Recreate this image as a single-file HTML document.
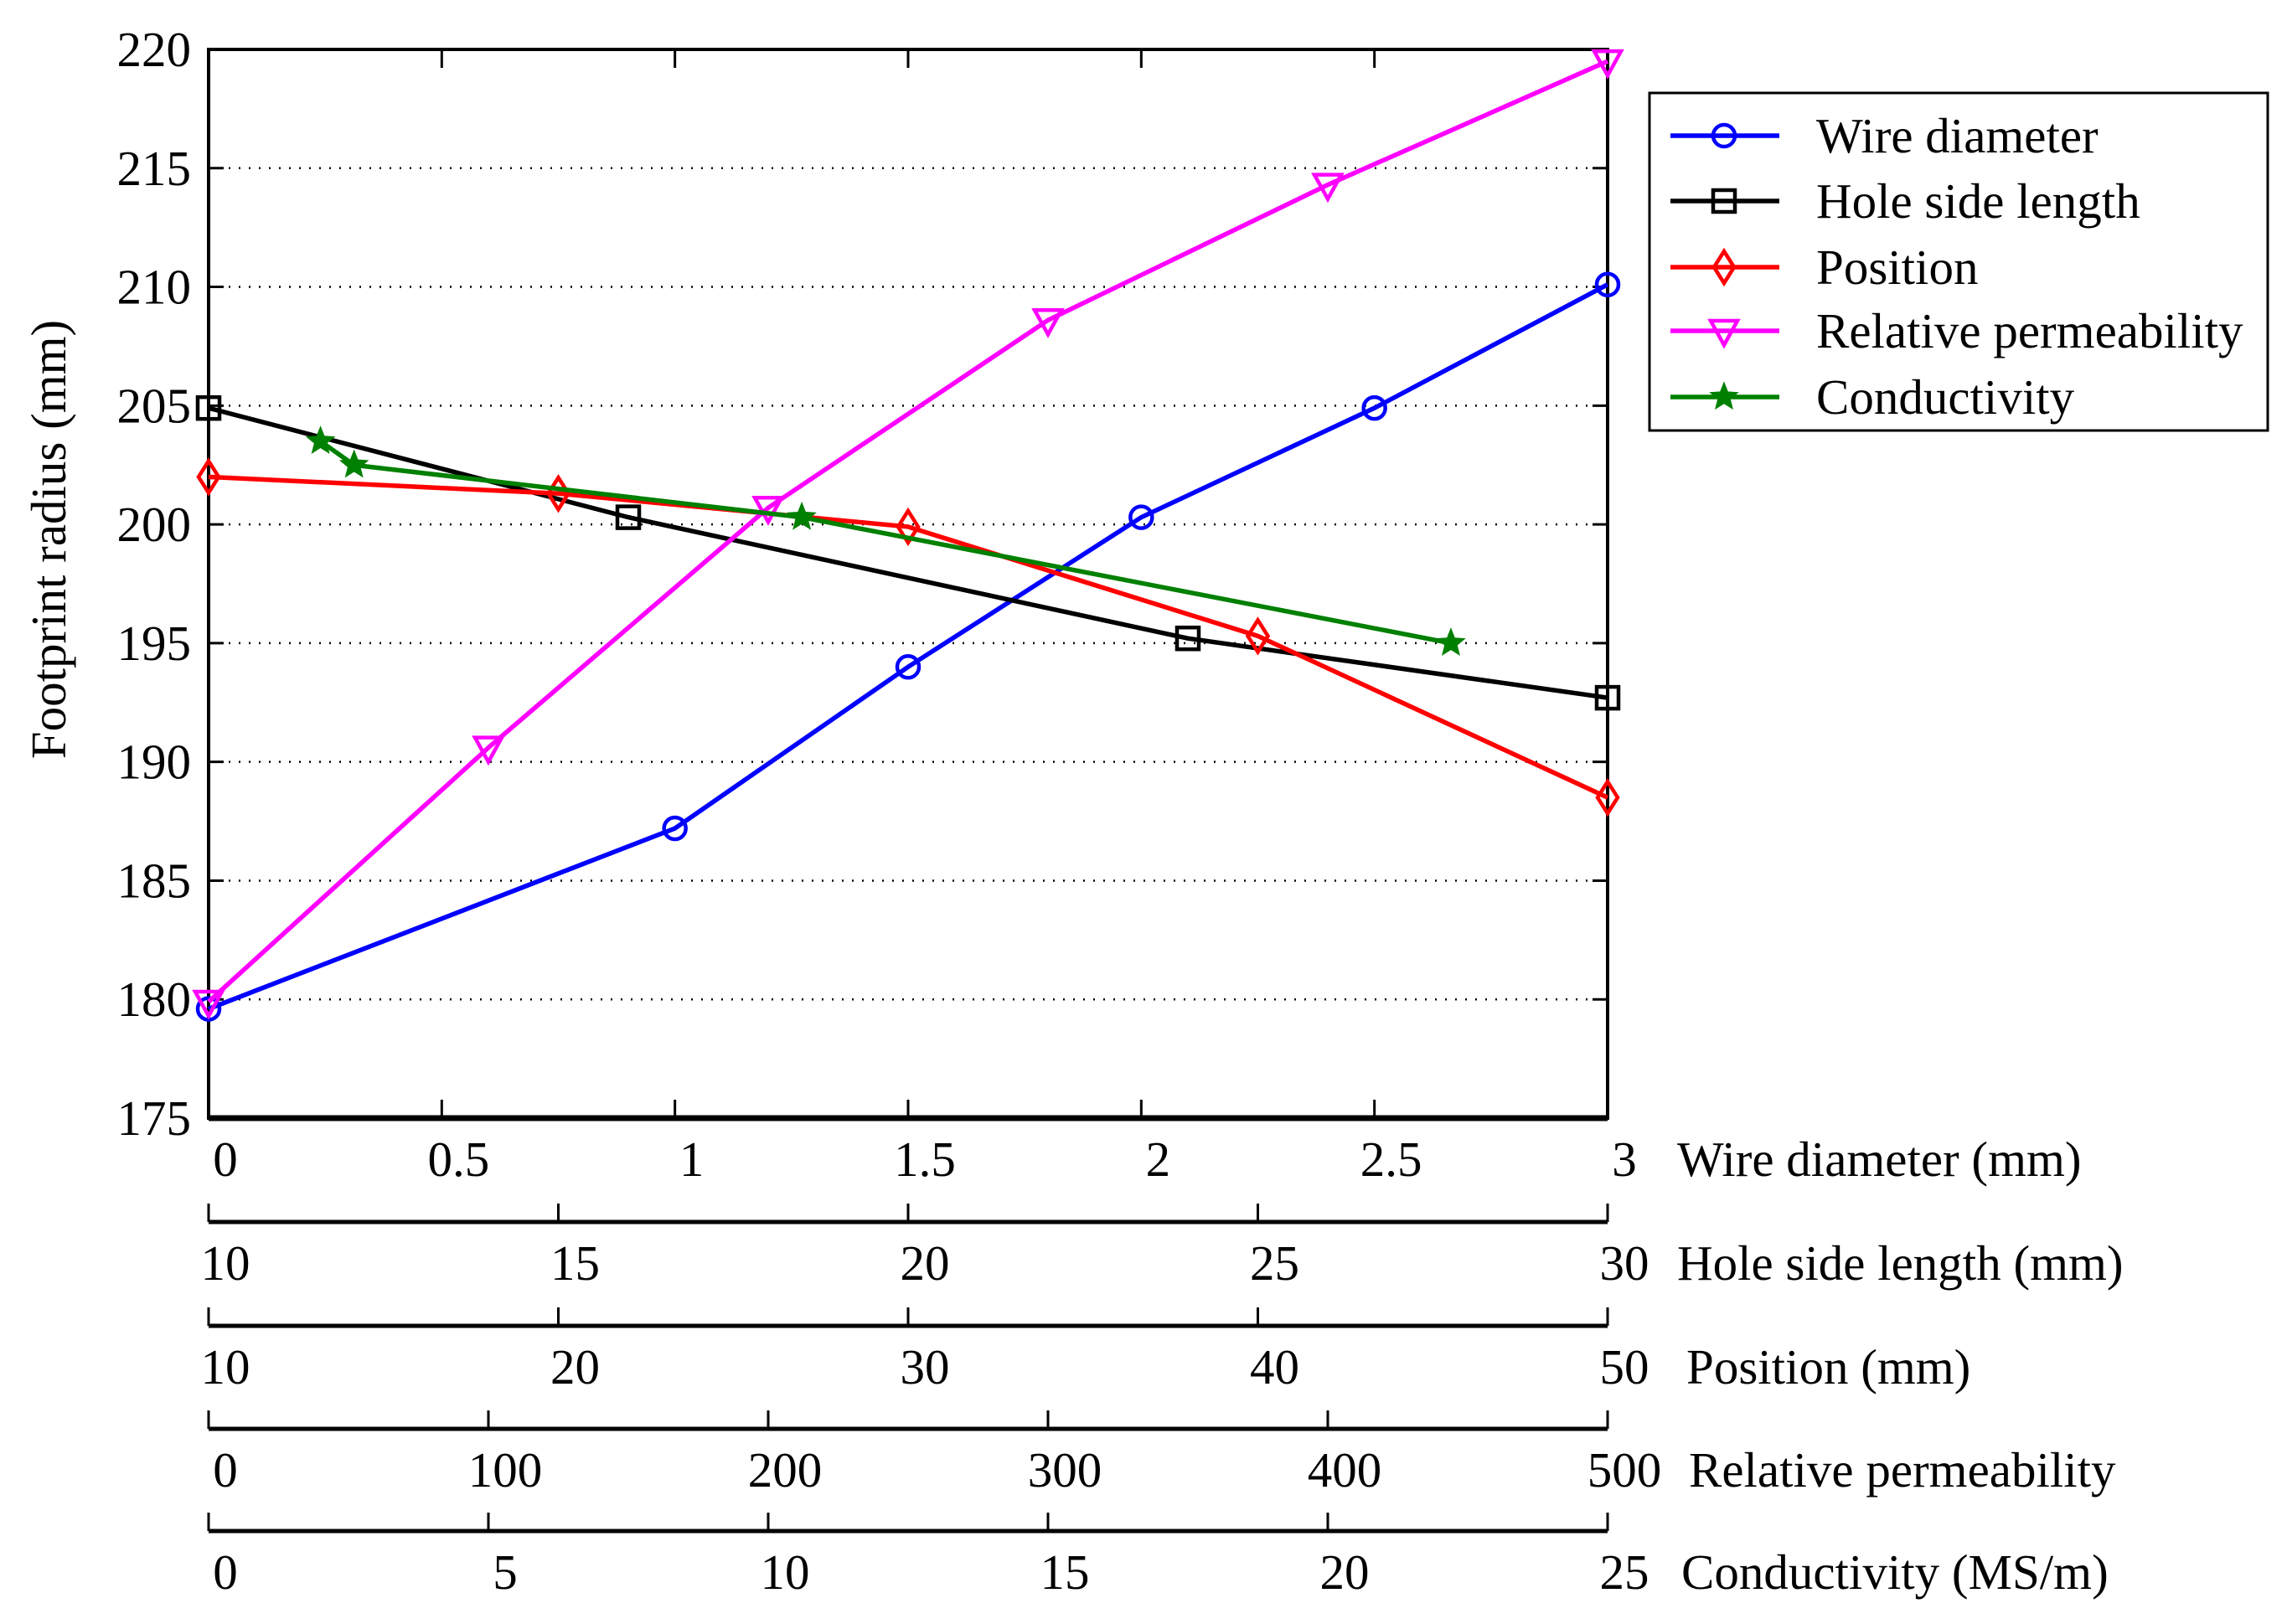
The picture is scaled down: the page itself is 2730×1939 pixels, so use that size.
<!DOCTYPE html>
<html><head><meta charset="utf-8"><style>
html,body{margin:0;padding:0;background:#fff;}
svg{display:block;}
text{font-family:"Liberation Serif",serif;fill:#000;}
</style></head><body>
<svg id="chart" width="2730" height="1939" viewBox="0 0 2730 1939" xmlns="http://www.w3.org/2000/svg"></svg>
<script>
// ---- data ----
const wireX = [0, 1, 1.5, 2, 2.5, 3];
const wireY = [179.6, 187.2, 194.0, 200.3, 204.9, 210.1];
const holeX = [10, 16, 24, 30];
const holeY = [204.9, 200.3, 195.2, 192.7];
const posX = [10, 20, 30, 40, 50];
const posY = [202.0, 201.3, 199.9, 195.3, 188.5];
const permX = [0, 100, 200, 300, 400, 500];
const permY = [179.9, 190.6, 200.7, 208.6, 214.3, 219.5];
const condX = [2.0, 2.6, 10.6, 22.2];
const condY = [203.5, 202.5, 200.3, 195.0];
const yTicks = [175, 180, 185, 190, 195, 200, 205, 210, 215, 220];
const wireTicks = [0, 0.5, 1, 1.5, 2, 2.5, 3];
const wireTickLabels = ["0", "0.5", "1", "1.5", "2", "2.5", "3"];
const holeTicks = [10, 15, 20, 25, 30];
const posTicks = [10, 20, 30, 40, 50];
const permTicks = [0, 100, 200, 300, 400, 500];
const condTicks = [0, 5, 10, 15, 20, 25];
const legendLabels = ["Wire diameter", "Hole side length", "Position", "Relative permeability", "Conductivity"];

const NS = "http://www.w3.org/2000/svg";
const svg = document.getElementById('chart');
const L = 249, R = 1919, T = 59, B = 1335;
const FS = 59;
function el(tag, attrs, parent) {
  const e = document.createElementNS(NS, tag);
  for (const k in attrs) e.setAttribute(k, attrs[k]);
  (parent || svg).appendChild(e);
  return e;
}
function yS(v) { return T + (220 - v) / 45 * (B - T); }
function lin(d0, d1) { return v => L + (v - d0) / (d1 - d0) * (R - L); }
const xWire = lin(0, 3), xHole = lin(10, 30), xPos = lin(10, 50), xPerm = lin(0, 500), xCond = lin(0, 25);

yTicks.forEach(v => {
  if (v > 175 && v < 220) {
    const g = el('line', {x1: L, x2: R, y1: yS(v), y2: yS(v), stroke: '#000', 'stroke-width': 2.5, 'stroke-dasharray': '2 10'});
    
    
  }
  const t = el('text', {x: 228, y: yS(v) + 20, 'font-size': FS, 'text-anchor': 'end'});
  t.textContent = v;
  
  
  const tk = el('line', {x1: L, x2: L + 18, y1: yS(v), y2: yS(v), stroke: '#000', 'stroke-width': 3});
  
  
  const tk2 = el('line', {x1: R, x2: R - 18, y1: yS(v), y2: yS(v), stroke: '#000', 'stroke-width': 3});
  
  
});
const frame = el('rect', {x: L, y: T, width: R - L, height: B - T, fill: 'none', stroke: '#000', 'stroke-width': 4});


const bl = el('line', {x1: L, x2: R, y1: B, y2: B, stroke: '#000', 'stroke-width': 7});


wireTicks.forEach((v, i) => {
  const a = el('line', {x1: xWire(v), x2: xWire(v), y1: B, y2: B - 22, stroke: '#000', 'stroke-width': 3});
  
  
  const b = el('line', {x1: xWire(v), x2: xWire(v), y1: T, y2: T + 22, stroke: '#000', 'stroke-width': 3});
  
  
  const t = el('text', {x: xWire(v) + 20, y: 1404, 'font-size': FS, 'text-anchor': 'middle'});
  t.textContent = wireTickLabels[i];
  
  
});
const wt = el('text', {x: 2002, y: 1404, 'font-size': FS});
wt.textContent = 'Wire diameter (mm)';



function extraAxis(lineY, ticks, xf, title, titleX, name) {
  const ln = el('line', {x1: L, x2: R, y1: lineY, y2: lineY, stroke: '#000', 'stroke-width': 5});
  
  
  ticks.forEach(v => {
    const tk = el('line', {x1: xf(v), x2: xf(v), y1: lineY, y2: lineY - 22, stroke: '#000', 'stroke-width': 3});
    
    
    const t = el('text', {x: xf(v) + 20, y: lineY + 69, 'font-size': FS, 'text-anchor': 'middle'});
    t.textContent = v;
    
    
  });
  const tt = el('text', {x: titleX, y: lineY + 69, 'font-size': FS});
  tt.textContent = title;
  
  
}
extraAxis(1459, holeTicks, xHole, 'Hole side length (mm)', 2002, 'hole');
extraAxis(1583, posTicks, xPos, 'Position (mm)', 2013, 'position');
extraAxis(1706, permTicks, xPerm, 'Relative permeability', 2016, 'permeability');
extraAxis(1828, condTicks, xCond, 'Conductivity (MS/m)', 2007, 'conductivity');

const yt = el('text', {x: 0, y: 0, 'font-size': FS, 'text-anchor': 'middle', transform: 'translate(78,644) rotate(-90)'});
yt.textContent = 'Footprint radius (mm)';



function marker(type, cx, cy, color, parent) {
  let m;
  if (type === 'o') m = el('circle', {cx, cy, r: 13, fill: 'none', stroke: color, 'stroke-width': 4.5}, parent);
  else if (type === 's') m = el('rect', {x: cx - 13, y: cy - 13, width: 26, height: 26, fill: 'none', stroke: color, 'stroke-width': 4.5}, parent);
  else if (type === 'd') m = el('polygon', {points: `${cx},${cy-19} ${cx+12},${cy} ${cx},${cy+19} ${cx-12},${cy}`, fill: 'none', stroke: color, 'stroke-width': 4.5}, parent);
  else if (type === 'v') m = el('polygon', {points: `${cx-16},${cy-12} ${cx+16},${cy-12} ${cx},${cy+17}`, fill: 'none', stroke: color, 'stroke-width': 4.5}, parent);
  else {
    let p = '';
    for (let k = 0; k < 10; k++) { const a = -Math.PI/2 + k*Math.PI/5; const r = k%2 ? 7 : 16; p += `${cx + r*Math.cos(a)},${cy + r*Math.sin(a)} `; }
    m = el('polygon', {points: p, fill: color, stroke: color, 'stroke-width': 2}, parent);
  }
  return m;
}
const series = [
  {name: 'wire-diameter', xs: wireX, ys: wireY, xf: xWire, color: '#0000ff', m: 'o'},
  {name: 'hole-side-length', xs: holeX, ys: holeY, xf: xHole, color: '#000000', m: 's'},
  {name: 'position', xs: posX, ys: posY, xf: xPos, color: '#ff0000', m: 'd'},
  {name: 'relative-permeability', xs: permX, ys: permY, xf: xPerm, color: '#ff00ff', m: 'v'},
  {name: 'conductivity', xs: condX, ys: condY, xf: xCond, color: '#008000', m: 'p'}
];
series.forEach(s => {
  const g = el('g', {});
  
  
  const pts = s.xs.map((x, i) => s.xf(x) + ',' + yS(s.ys[i])).join(' ');
  const pl = el('polyline', {points: pts, fill: 'none', stroke: s.color, 'stroke-width': 5.5}, g);
  
  
  s.xs.forEach((x, i) => {
    const mk = marker(s.m, s.xf(x), yS(s.ys[i]), s.color, g);
    
    
  });
});

const lg = el('g', {});


const lb = el('rect', {x: 1969, y: 111, width: 738, height: 403, fill: '#fff', stroke: '#000', 'stroke-width': 3}, lg);


const rowY = [162, 240, 319, 395, 474];
series.forEach((s, i) => {
  const e = el('g', {}, lg);
  
  
  el('line', {x1: 1994, x2: 2124, y1: rowY[i], y2: rowY[i], stroke: s.color, 'stroke-width': 5.5}, e);
  marker(s.m, 2058, rowY[i], s.color, e);
  const t = el('text', {x: 2168, y: rowY[i] + 20, 'font-size': FS}, e);
  t.textContent = legendLabels[i];
});
</script>
</body></html>
